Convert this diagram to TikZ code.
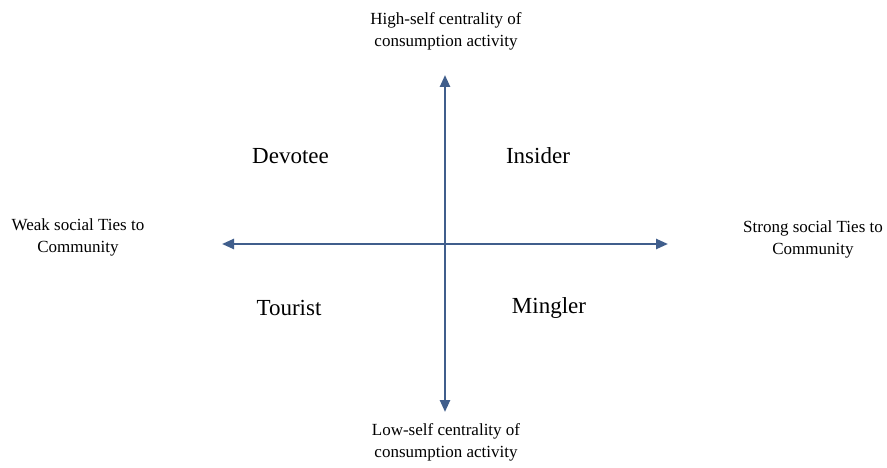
\documentclass[tikz,border=0pt]{standalone}
\usepackage{fontspec}
\setmainfont{Liberation Serif}
\usetikzlibrary{arrows.meta}
\definecolor{axisblue}{RGB}{64,94,140}
\begin{document}
\begin{tikzpicture}[x=1pt,y=-1pt,
  axis/.style={draw=axisblue,line width=2.4pt,{Triangle[length=12pt,width=10pt]}-{Triangle[length=12pt,width=10pt]}},
  quad/.style={font=\fontsize{23}{27}\selectfont,inner sep=0pt,anchor=center},
  side/.style={font=\fontsize{17}{22}\selectfont,align=center,inner sep=0pt,anchor=center}]
\useasboundingbox[fill=white] (0,0) rectangle (887,468);
\coordinate (top) at (445,75);
\coordinate (bottom) at (445,412);
\coordinate (left) at (222,244);
\coordinate (right) at (668,244);
\draw[axis] (bottom) -- (top);
\draw[axis] (left) -- (right);
\node[quad] (devotee) at (290.5,156) {Devotee};
\node[quad] (insider) at (538,156) {Insider};
\node[quad] (tourist) at (289,308) {Tourist};
\node[quad] (mingler) at (549,308) {Mingler};
\node[side] (high) at (446,31) {High-self centrality of\\consumption activity};
\node[side] (low) at (446,442) {Low-self centrality of\\consumption activity};
\node[side] (weak) at (78,237) {Weak social Ties to\\Community};
\node[side] (strong) at (813,239) {Strong social Ties to\\Community};
\end{tikzpicture}
\end{document}
